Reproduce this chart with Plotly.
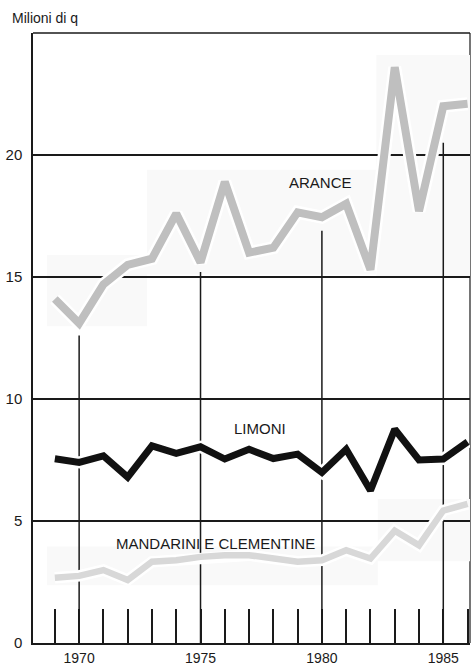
import plotly.graph_objects as go

years = list(range(1969, 1987))
arance = [14.1, 13.1, 14.7, 15.5, 15.75, 17.6, 15.6, 18.9, 16.0, 16.2, 17.65, 17.45, 18.0, 15.3, 23.6, 17.7, 22.0, 22.1]
limoni = [7.55, 7.4, 7.67, 6.8, 8.08, 7.77, 8.04, 7.54, 7.94, 7.56, 7.74, 6.99, 7.94, 6.25, 8.76, 7.5, 7.54, 8.24]
mandarini = [2.67, 2.75, 2.99, 2.58, 3.33, 3.39, 3.53, 3.6, 3.6, 3.46, 3.33, 3.39, 3.8, 3.46, 4.6, 4.0, 5.43, 5.7]

major_years = [1970, 1975, 1980, 1985]
major_tops = [12.6, 15.2, 16.9, 20.5]
y_ticks = [0, 5, 10, 15, 20]

INK = "#1a1a1a"
FONT = "Liberation Sans, Arial, sans-serif"

fig = go.Figure()

series = [
    ("ARANCE", arance, "#bfbfbf", 8),
    ("LIMONI", limoni, "#111111", 7),
    ("MANDARINI E CLEMENTINE", mandarini, "#d8d8d8", 6.5),
]
for name, vals, col, w in series:
    fig.add_trace(go.Scatter(x=years, y=vals, mode="lines",
                             line=dict(color="white", width=w + 5),
                             hoverinfo="skip", showlegend=False))
for name, vals, col, w in series:
    fig.add_trace(go.Scatter(x=years, y=vals, mode="lines", name=name,
                             line=dict(color=col, width=w),
                             showlegend=False))

shapes = []
patch = "#f9f9f9"
for x0, x1, y0, y1 in [(1968.68, 1972.8, 12.98, 15.9),
                       (1972.8, 1982.24, 15.1, 19.4),
                       (1982.24, 1986.1, 15.0, 24.1),
                       (1968.68, 1982.3, 2.37, 3.96),
                       (1982.3, 1986.1, 3.35, 5.9)]:
    shapes.append(dict(type="rect", xref="x", yref="y", x0=x0, x1=x1, y0=y0, y1=y1,
                       fillcolor=patch, line=dict(width=0), layer="below"))
for yr, top in zip(major_years, major_tops):
    shapes.append(dict(type="line", xref="x", yref="y", x0=yr, x1=yr, y0=0, y1=top,
                       line=dict(color=INK, width=1.5), layer="between"))
# frame: top and right border
shapes.append(dict(type="line", xref="paper", yref="paper", x0=0, x1=1, y0=1, y1=1,
                   line=dict(color=INK, width=1.5), layer="between"))
shapes.append(dict(type="line", xref="paper", yref="paper", x0=1, x1=1, y0=0, y1=1,
                   line=dict(color=INK, width=1.2), layer="between"))

annotations = [
    dict(text="ARANCE", x=1979.93, y=18.86, xref="x", yref="y", showarrow=False,
         font=dict(size=15, color=INK, family=FONT)),
    dict(text="LIMONI", x=1977.46, y=8.78, xref="x", yref="y", showarrow=False,
         font=dict(size=15, color=INK, family=FONT)),
    dict(text="MANDARINI E CLEMENTINE", x=1975.6, y=4.08, xref="x", yref="y", showarrow=False,
         font=dict(size=15, color=INK, family=FONT)),
    dict(text="Milioni di q", xref="paper", yref="paper",
         x=-23 / 437, y=1 + 15 / 612, xanchor="left", yanchor="middle",
         showarrow=False, font=dict(size=14, color=INK, family=FONT)),
]

fig.update_layout(
    width=471, height=667,
    margin=dict(l=33, r=1, t=33, b=22),
    paper_bgcolor="white", plot_bgcolor="white",
    shapes=shapes,
    annotations=annotations,
    font=dict(family=FONT, color=INK),
    xaxis=dict(range=[1968.1, 1986.1], showgrid=False, zeroline=False,
               tickvals=years,
               ticktext=[str(y) if y in major_years else "" for y in years],
               ticks="inside", ticklen=34, tickwidth=1.5, tickcolor=INK,
               tickfont=dict(size=14, color=INK, family=FONT),
               ticklabelstandoff=1,
               showline=True, linecolor=INK, linewidth=1.5),
    yaxis=dict(range=[0, 25], tickvals=y_ticks, ticktext=[str(v) for v in y_ticks],
               showgrid=True, gridcolor=INK, gridwidth=1.5, zeroline=False,
               ticks="", tickfont=dict(size=15, color=INK, family=FONT),
               showline=True, linecolor=INK, linewidth=1.5, ticklabelstandoff=6),
)

fig.write_html("out.html", config={"displayModeBar": False},
               post_script="document.body.style.margin='0';document.body.style.overflow='hidden';")
